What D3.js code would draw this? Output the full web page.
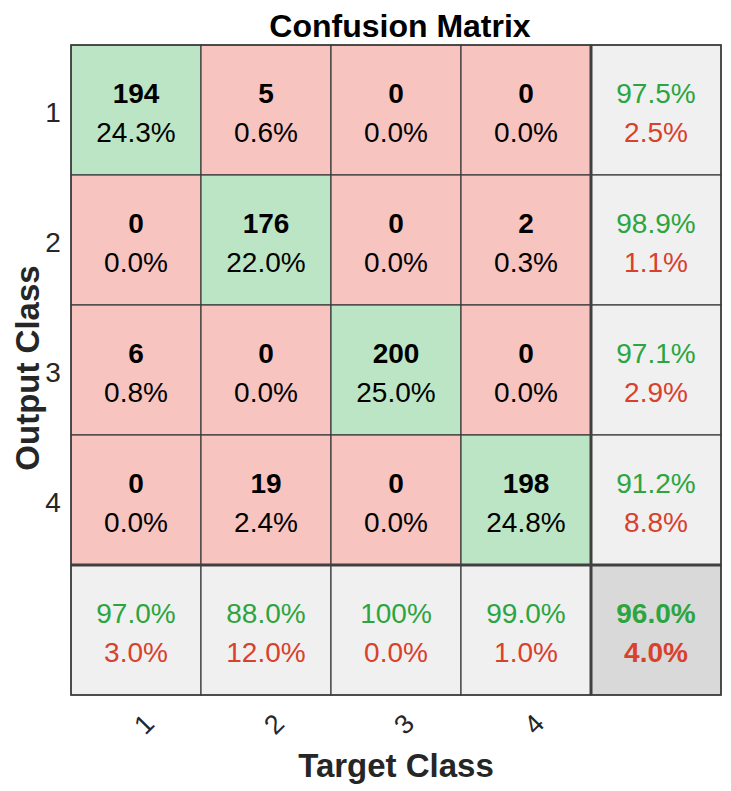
<!DOCTYPE html>
<html>
<head>
<meta charset="utf-8">
<script src="https://cdn.jsdelivr.net/npm/d3@7"></script>
<style>
    body { margin: 0; background: #fff; }
    text { font-family: "Liberation Sans", Arial, sans-serif; }
</style>
</head>
<body>
<script>
(function(){

    //class labels (rows = output class, columns = target class)
    var classes = ["1", "2", "3", "4"];

    //counts read from the matrix, one array per output class
    var row1 = [194, 5, 0, 0],
        row2 = [0, 176, 0, 2],
        row3 = [6, 0, 200, 0],
        row4 = [0, 19, 0, 198];
    var counts = [row1, row2, row3, row4];

    //summary percentages (correct)
    var rowCorrect = [97.5, 98.9, 97.1, 91.2]; //right column
    var colCorrect = [97.0, 88.0, 100, 99.0];  //bottom row
    var totalCorrect = 96.0;                   //bottom right

    //frame dimensions
    var width = 731,
        height = 791,
        gridLeft = 71,
        gridTop = 45,
        gridSize = 650;

    var keys = classes.concat(["sum"]);

    var x = d3.scaleBand().domain(keys).range([gridLeft, gridLeft + gridSize]);
    var y = d3.scaleBand().domain(keys).range([gridTop, gridTop + gridSize]);

    var green = "#bce5c5", red = "#f8c4c0", grey = "#f0f0f0", darkGrey = "#d9d9d9";
    var greenText = "#2ca540", redText = "#d8412c";

    var total = d3.sum(counts, function(r){ return d3.sum(r); });

    function fmt(v){
        return (v === 100 ? "100" : v.toFixed(1)) + "%";
    }

    var svg = d3.select("body")
        .append("svg")
        .attr("width", width)
        .attr("height", height);

    //build cell records
    var cells = [];
    counts.forEach(function(r, i){
        r.forEach(function(v, j){
            cells.push({
                row: classes[i], col: classes[j],
                fill: i === j ? green : red,
                top: String(v), topBold: true, topColor: "#000",
                bottom: fmt(v / total * 100), bottomBold: false, bottomColor: "#000"
            });
        });
    });
    rowCorrect.forEach(function(v, i){
        cells.push({
            row: classes[i], col: "sum", fill: grey,
            top: fmt(v), topBold: false, topColor: greenText,
            bottom: fmt(+(100 - v).toFixed(1)), bottomBold: false, bottomColor: redText
        });
    });
    colCorrect.forEach(function(v, j){
        cells.push({
            row: "sum", col: classes[j], fill: grey,
            top: fmt(v), topBold: false, topColor: greenText,
            bottom: fmt(+(100 - v).toFixed(1)), bottomBold: false, bottomColor: redText
        });
    });
    cells.push({
        row: "sum", col: "sum", fill: darkGrey,
        top: fmt(totalCorrect), topBold: true, topColor: greenText,
        bottom: fmt(+(100 - totalCorrect).toFixed(1)), bottomBold: true, bottomColor: redText
    });

    var cell = svg.selectAll(".cell")
        .data(cells)
        .enter()
        .append("g")
        .attr("class", "cell")
        .attr("transform", function(d){
            return "translate(" + x(d.col) + "," + y(d.row) + ")";
        });

    cell.append("rect")
        .attr("width", x.bandwidth())
        .attr("height", y.bandwidth())
        .attr("fill", function(d){ return d.fill; })
        .attr("stroke", "#3a3a3a")
        .attr("stroke-width", 1.2);

    cell.append("text")
        .attr("x", x.bandwidth() / 2)
        .attr("y", 58)
        .attr("text-anchor", "middle")
        .style("font-size", "28px")
        .style("font-weight", function(d){ return d.topBold ? "bold" : "normal"; })
        .attr("fill", function(d){ return d.topColor; })
        .text(function(d){ return d.top; });

    cell.append("text")
        .attr("x", x.bandwidth() / 2)
        .attr("y", 97)
        .attr("text-anchor", "middle")
        .style("font-size", "28px")
        .style("font-weight", function(d){ return d.bottomBold ? "bold" : "normal"; })
        .attr("fill", function(d){ return d.bottomColor; })
        .text(function(d){ return d.bottom; });

    //thick separators around the summary row and column
    var sepX = x("sum"), sepY = y("sum");
    svg.append("line")
        .attr("x1", sepX).attr("x2", sepX)
        .attr("y1", gridTop).attr("y2", gridTop + gridSize)
        .attr("stroke", "#404040").attr("stroke-width", 3);
    svg.append("line")
        .attr("x1", gridLeft).attr("x2", gridLeft + gridSize)
        .attr("y1", sepY).attr("y2", sepY)
        .attr("stroke", "#404040").attr("stroke-width", 3);

    //outer frame
    svg.append("rect")
        .attr("x", gridLeft).attr("y", gridTop)
        .attr("width", gridSize).attr("height", gridSize)
        .attr("fill", "none")
        .attr("stroke", "#3a3a3a")
        .attr("stroke-width", 1.5);

    //row tick labels
    svg.selectAll(".rowLabel")
        .data(classes)
        .enter()
        .append("text")
        .attr("class", "rowLabel")
        .attr("x", 53)
        .attr("y", function(d){ return y(d) + y.bandwidth() / 2 + 12; })
        .attr("text-anchor", "middle")
        .style("font-size", "28px")
        .attr("fill", "#262626")
        .text(function(d){ return d; });

    //column tick labels, rotated
    svg.selectAll(".colLabel")
        .data(classes)
        .enter()
        .append("text")
        .attr("class", "colLabel")
        .attr("transform", function(d){
            return "translate(" + (x(d) + x.bandwidth() / 2 + 8) + ",724) rotate(-45)";
        })
        .attr("text-anchor", "middle")
        .attr("dy", "0.35em")
        .style("font-size", "27px")
        .attr("fill", "#262626")
        .text(function(d){ return d; });

    //title and axis labels
    svg.append("text")
        .attr("x", 400)
        .attr("y", 37)
        .attr("text-anchor", "middle")
        .style("font-size", "32px")
        .style("font-weight", "bold")
        .attr("fill", "#000")
        .text("Confusion Matrix");

    svg.append("text")
        .attr("x", 396)
        .attr("y", 777)
        .attr("text-anchor", "middle")
        .style("font-size", "33px")
        .style("font-weight", "bold")
        .attr("fill", "#262626")
        .text("Target Class");

    svg.append("text")
        .attr("transform", "translate(39,368) rotate(-90)")
        .attr("text-anchor", "middle")
        .style("font-size", "33px")
        .style("font-weight", "bold")
        .attr("fill", "#262626")
        .text("Output Class");

})();
</script>
</body>
</html>
